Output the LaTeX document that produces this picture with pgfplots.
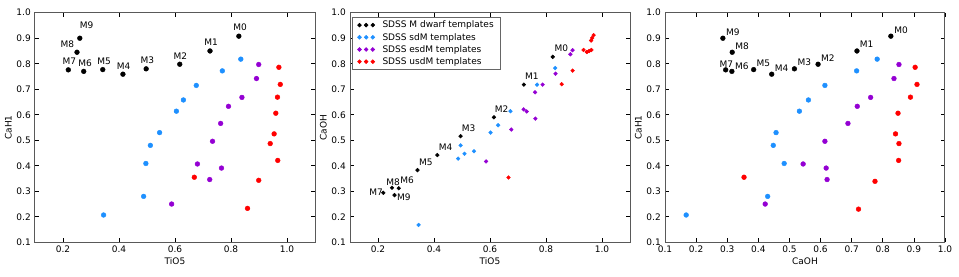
\documentclass[border=0pt]{standalone}
\usepackage{fontspec}
\setmainfont{DejaVu Sans}
\usepackage{pgfplots}
\pgfplotsset{compat=1.18}
\definecolor{sdm}{RGB}{30,144,255}
\definecolor{esdm}{RGB}{148,0,211}
\definecolor{usdm}{RGB}{255,0,0}
\newcommand{\nf}{\fontsize{9}{11}\selectfont}
\tikzset{lab/.style={font=\nf, inner sep=0pt, anchor=center}}
\pgfplotsset{
  panel/.style={
    scale only axis, width=280pt, height=229.6pt,
    xmin=0.1, xmax=1.1, ymin=0.1, ymax=1.0,
    ytick={0.1,0.2,0.3,0.4,0.5,0.6,0.7,0.8,0.9,1.0},
    xtick={0.2,0.4,0.6,0.8,1.0},
    tick align=inside, major tick length=4pt,
    axis line style={black!65, line width=1pt},
    tick style={black, line width=0.6pt},
    font=\nf,
    tick label style={font=\nf},
    label style={font=\nf},
    /pgf/number format/assume math mode=true,
    /pgf/number format/fixed,
    /pgf/number format/fixed zerofill,
    /pgf/number format/precision=1,
    yticklabel style={xshift=-1pt},
    every axis x label/.style={at={(axis description cs:0.5,-0.0814)},anchor=center},
    every axis y label/.style={at={(axis description cs:-0.0954,0.5)},rotate=90,anchor=center},
  },
  big/.style={only marks, mark=*, mark size=2.4pt, mark options={draw=none}},
  small/.style={only marks, mark=*, mark size=1.9pt, mark options={draw=none}},
}
\begin{document}
\nf
\begin{tikzpicture}
%%%%%%%%%%%%%%%% Panel 1: TiO5 vs CaH1
\begin{axis}[panel, at={(35pt,33.7pt)}, anchor=south west, xlabel={TiO5}, ylabel={CaH1}]
\addplot[big, color=black] coordinates {(0.828,0.908) (0.725,0.850) (0.617,0.798) (0.497,0.780) (0.414,0.759) (0.342,0.777) (0.274,0.770) (0.219,0.776) (0.250,0.845) (0.260,0.900)};
\addplot[big, color=sdm] coordinates {(0.835,0.818) (0.769,0.772) (0.676,0.715) (0.630,0.658) (0.605,0.614) (0.545,0.530) (0.512,0.480) (0.496,0.409) (0.488,0.280) (0.345,0.207)};
\addplot[big, color=esdm] coordinates {(0.899,0.797) (0.891,0.742) (0.839,0.668) (0.791,0.633) (0.763,0.566) (0.734,0.496) (0.680,0.407) (0.766,0.391) (0.724,0.346) (0.588,0.250)};
\addplot[big, color=usdm] coordinates {(0.971,0.786) (0.976,0.719) (0.966,0.669) (0.960,0.606) (0.954,0.525) (0.940,0.487) (0.967,0.421) (0.669,0.355) (0.899,0.343) (0.859,0.233)};
\node[lab, xshift=1.3pt, yshift=8.7pt] at (axis cs:0.828,0.908) {M0};
\node[lab, xshift=1pt, yshift=8.3pt] at (axis cs:0.725,0.850) {M1};
\node[lab, xshift=0.7pt, yshift=8.3pt] at (axis cs:0.617,0.798) {M2};
\node[lab, xshift=1.3pt, yshift=8.3pt] at (axis cs:0.497,0.780) {M3};
\node[lab, xshift=0.7pt, yshift=8pt] at (axis cs:0.414,0.759) {M4};
\node[lab, xshift=1.3pt, yshift=8pt] at (axis cs:0.342,0.777) {M5};
\node[lab, xshift=1.3pt, yshift=8.3pt] at (axis cs:0.274,0.770) {M6};
\node[lab, xshift=1pt, yshift=8.3pt] at (axis cs:0.219,0.776) {M7};
\node[lab, xshift=-9.7pt, yshift=8.3pt] at (axis cs:0.250,0.845) {M8};
\node[lab, xshift=6.7pt, yshift=13pt] at (axis cs:0.260,0.900) {M9};
\end{axis}
%%%%%%%%%%%%%%%% Panel 2: TiO5 vs CaOH
\begin{axis}[panel, at={(350pt,33.7pt)}, anchor=south west, xlabel={TiO5}, ylabel={CaOH},
  legend cell align=left,
  legend style={at={(axis description cs:0,1)}, anchor=north west, xshift=2pt, yshift=-4pt,
    draw=black!60, line width=0.6pt, font=\nf, row sep=0pt, column sep=5.5pt,
    inner xsep=5pt, inner ysep=2pt},
  legend image code/.code={\fill (0pt,0pt) circle (1.9pt) (6.65pt,0pt) circle (1.9pt) (13.3pt,0pt) circle (1.9pt);}]
\addplot[small, color=black] coordinates {(0.824,0.827) (0.721,0.718) (0.614,0.590) (0.495,0.516) (0.412,0.442) (0.341,0.383) (0.274,0.312) (0.219,0.294) (0.250,0.314) (0.259,0.285)};
\addlegendentry{SDSS M dwarf templates}
\addplot[small, color=sdm] coordinates {(0.833,0.783) (0.768,0.718) (0.673,0.614) (0.629,0.559) (0.602,0.530) (0.543,0.457) (0.509,0.447) (0.495,0.480) (0.486,0.428) (0.345,0.168)};
\addlegendentry{SDSS sdM templates}
\addplot[small, color=esdm] coordinates {(0.895,0.853) (0.887,0.837) (0.834,0.761) (0.788,0.718) (0.761,0.688) (0.731,0.613) (0.720,0.621) (0.762,0.585) (0.676,0.542) (0.586,0.417)};
\addlegendentry{SDSS esdM templates}
\addplot[small, color=usdm] coordinates {(0.970,0.912) (0.965,0.901) (0.961,0.891) (0.962,0.854) (0.954,0.850) (0.934,0.854) (0.946,0.846) (0.666,0.354) (0.895,0.773) (0.856,0.720)};
\addlegendentry{SDSS usdM templates}
\node[lab, xshift=8.7pt, yshift=8.7pt] at (axis cs:0.824,0.827) {M0};
\node[lab, xshift=8pt, yshift=8.3pt] at (axis cs:0.721,0.718) {M1};
\node[lab, xshift=7.7pt, yshift=8pt] at (axis cs:0.614,0.590) {M2};
\node[lab, xshift=8pt, yshift=8.3pt] at (axis cs:0.495,0.516) {M3};
\node[lab, xshift=8.3pt, yshift=8.3pt] at (axis cs:0.412,0.442) {M4};
\node[lab, xshift=8.3pt, yshift=8pt] at (axis cs:0.341,0.383) {M5};
\node[lab, xshift=8.3pt, yshift=8.3pt] at (axis cs:0.274,0.312) {M6};
\node[lab, xshift=-7.3pt, yshift=1pt] at (axis cs:0.219,0.294) {M7};
\node[lab, xshift=1pt, yshift=5.3pt] at (axis cs:0.250,0.314) {M8};
\node[lab, xshift=9.3pt, yshift=-2.3pt] at (axis cs:0.259,0.285) {M9};
\end{axis}
%%%%%%%%%%%%%%%% Panel 3: CaOH vs CaH1
\begin{axis}[panel, at={(665pt,33.7pt)}, anchor=south west, xlabel={CaOH}, ylabel={CaH1},
  xmin=0.1, xmax=1.0, xtick={0.1,0.2,0.3,0.4,0.5,0.6,0.7,0.8,0.9,1.0}]
\addplot[big, color=black] coordinates {(0.826,0.908) (0.717,0.850) (0.592,0.798) (0.516,0.780) (0.443,0.759) (0.385,0.777) (0.315,0.770) (0.295,0.776) (0.316,0.845) (0.286,0.900)};
\addplot[big, color=sdm] coordinates {(0.782,0.818) (0.716,0.772) (0.614,0.715) (0.561,0.658) (0.532,0.614) (0.457,0.530) (0.448,0.480) (0.483,0.409) (0.430,0.280) (0.168,0.207)};
\addplot[big, color=esdm] coordinates {(0.852,0.797) (0.836,0.742) (0.761,0.668) (0.718,0.633) (0.688,0.566) (0.614,0.496) (0.544,0.407) (0.618,0.391) (0.621,0.346) (0.422,0.250)};
\addplot[big, color=usdm] coordinates {(0.904,0.786) (0.910,0.719) (0.889,0.669) (0.849,0.606) (0.841,0.525) (0.852,0.487) (0.851,0.421) (0.354,0.355) (0.775,0.339) (0.722,0.230)};
\node[lab, xshift=10.3pt, yshift=6pt] at (axis cs:0.826,0.908) {M0};
\node[lab, xshift=9.7pt, yshift=6.3pt] at (axis cs:0.717,0.850) {M1};
\node[lab, xshift=9.7pt, yshift=5.7pt] at (axis cs:0.592,0.798) {M2};
\node[lab, xshift=10pt, yshift=6.3pt] at (axis cs:0.516,0.780) {M3};
\node[lab, xshift=10pt, yshift=6pt] at (axis cs:0.443,0.759) {M4};
\node[lab, xshift=9.7pt, yshift=6pt] at (axis cs:0.385,0.777) {M5};
\node[lab, xshift=10pt, yshift=5.3pt] at (axis cs:0.315,0.770) {M6};
\node[lab, xshift=0.7pt, yshift=5.7pt] at (axis cs:0.295,0.776) {M7};
\node[lab, xshift=10pt, yshift=5.7pt] at (axis cs:0.316,0.845) {M8};
\node[lab, xshift=10pt, yshift=5.7pt] at (axis cs:0.286,0.900) {M9};
\end{axis}
\pgfresetboundingbox
\useasboundingbox (0,0) rectangle (959pt,276pt);
\end{tikzpicture}
\end{document}
